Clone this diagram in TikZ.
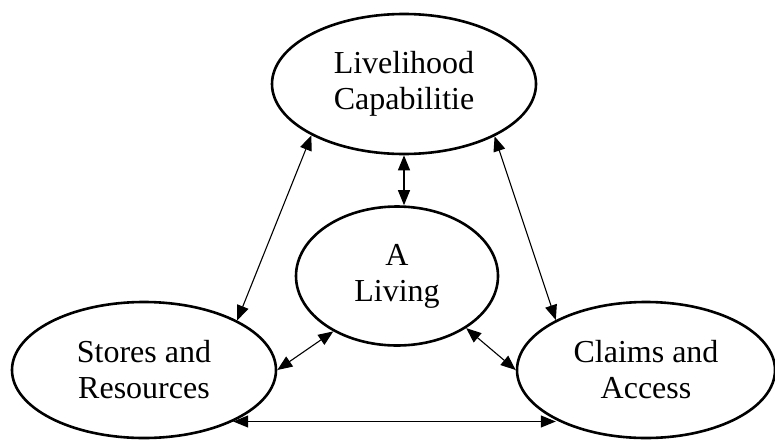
\documentclass[tikz,border=0pt]{standalone}
\usepackage{fontspec}
\setmainfont{Liberation Serif}
\usetikzlibrary{shapes.geometric,arrows.meta}
\begin{document}
\begin{tikzpicture}[x=1pt,y=1pt,
  ell/.style={ellipse,draw,line width=2.6pt,inner sep=0pt,align=center,
    font=\fontsize{32}{36}\selectfont},
  link/.style={line width=1.1pt,{Triangle[length=15pt,width=12pt]}-{Triangle[length=15pt,width=12pt]}}]
\useasboundingbox (0,0) rectangle (775,-439);
\node[ell,minimum width=264pt,minimum height=140pt] (top) at (404,-84) {Livelihood\\Capabilitie};
\node[ell,minimum width=202pt,minimum height=139pt] (ctr) at (397,-276) {A\\Living};
\node[ell,minimum width=264pt,minimum height=136pt] (lft) at (144,-370) {Stores and\\Resources};
\node[ell,minimum width=258pt,minimum height=136pt] (rgt) at (646,-370) {Claims and\\Access};
\draw[link] (top.south) -- (top.south |- ctr.north);
\draw[link] (top.209.4) -- (lft.28);
\draw[link] (top.330.6) -- (rgt.151.2);
\draw[link] (ctr.221.8) -- (lft.0);
\draw[link] (ctr.323.4) -- (rgt.180);
\draw[link] (lft.330.8) -- (lft.330.8 -| rgt.209.7);
\end{tikzpicture}
\end{document}
